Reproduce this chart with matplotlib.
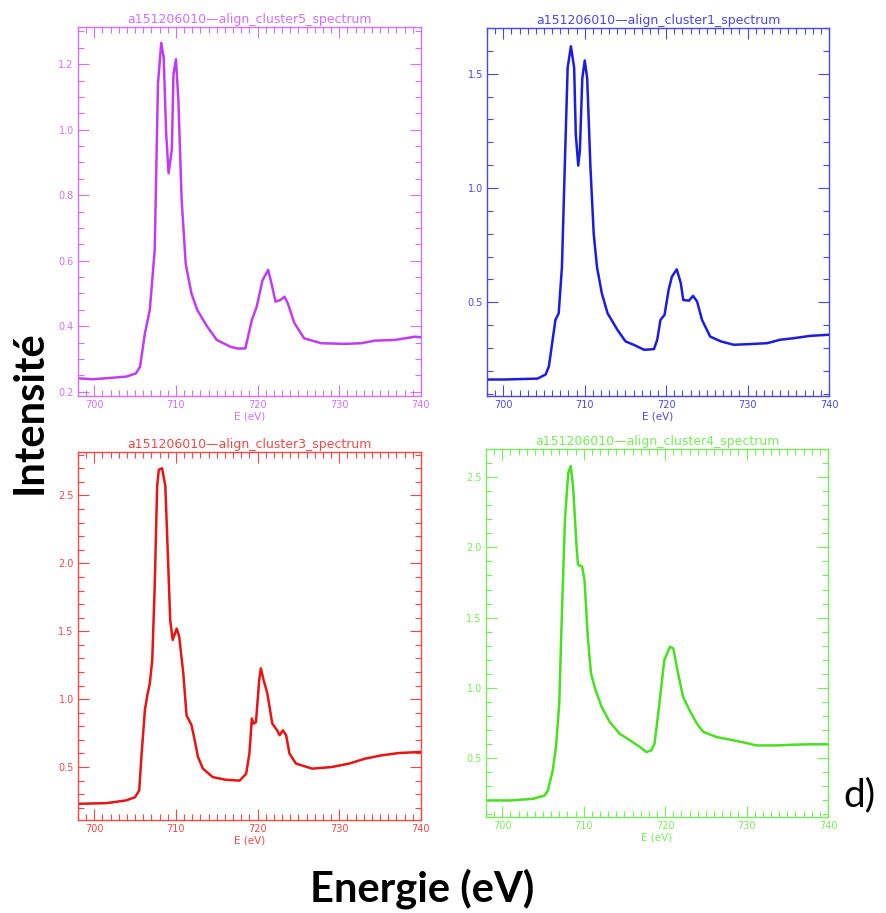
import numpy as np
import matplotlib
matplotlib.use("Agg")
import matplotlib.pyplot as plt
from matplotlib.ticker import MultipleLocator

# spectra (E in eV, intensity)
titles = ["a151206010\u2014align_cluster5_spectrum",
          "a151206010\u2014align_cluster1_spectrum",
          "a151206010\u2014align_cluster3_spectrum",
          "a151206010\u2014align_cluster4_spectrum"]

e5 = [698.0, 699.8, 701.9, 703.9, 705.1, 705.6, 706.2, 706.8, 707.4, 707.8, 708.2, 708.5,
      708.8, 709.1, 709.5, 709.7, 710.0, 710.3, 710.7, 711.2, 711.9, 712.6, 713.8, 715.0,
      716.7, 717.5, 718.5, 719.3, 719.9, 720.6, 721.3, 721.8, 722.2, 722.8, 723.3, 723.7,
      724.5, 725.7, 727.8, 730.7, 732.7, 734.4, 736.8, 739.3, 740.0]
i5 = [0.241, 0.238, 0.242, 0.246, 0.256, 0.276, 0.378, 0.45, 0.633, 1.14, 1.265, 1.22,
      0.99, 0.867, 0.94, 1.17, 1.215, 1.09, 0.785, 0.59, 0.5, 0.45, 0.4, 0.358,
      0.337, 0.332, 0.332, 0.419, 0.46, 0.54, 0.572, 0.52, 0.475, 0.48, 0.49, 0.47,
      0.41, 0.363, 0.348, 0.346, 0.348, 0.356, 0.358, 0.368, 0.366]

e1 = [698.0, 700.1, 704.2, 705.2, 705.6, 706.4, 706.8, 707.2, 707.6, 707.9, 708.3, 708.7,
      708.9, 709.2, 709.4, 709.7, 710.0, 710.3, 710.7, 711.1, 711.5, 712.1, 712.8, 714.0,
      715.0, 716.0, 717.3, 718.5, 718.9, 719.3, 719.8, 720.3, 720.7, 721.3, 721.8, 722.1,
      722.8, 723.3, 723.8, 724.4, 725.4, 726.7, 728.3, 730.3, 732.4, 734.0, 735.7, 737.7,
      740.0]
i1 = [0.162, 0.162, 0.166, 0.184, 0.22, 0.423, 0.452, 0.655, 1.16, 1.526, 1.62, 1.526,
      1.236, 1.098, 1.163, 1.48, 1.558, 1.48, 1.09, 0.80, 0.655, 0.539, 0.452, 0.38,
      0.329, 0.314, 0.292, 0.295, 0.336, 0.423, 0.445, 0.554, 0.612, 0.644, 0.583, 0.51,
      0.507, 0.528, 0.503, 0.423, 0.35, 0.329, 0.314, 0.317, 0.321, 0.336, 0.343, 0.353,
      0.358]

e3 = [698.0, 701.5, 703.9, 705.0, 705.5, 705.8, 706.2, 706.5, 706.8, 707.1, 707.4, 707.7,
      707.9, 708.3, 708.7, 709.0, 709.3, 709.6, 710.1, 710.4, 710.9, 711.3, 711.9, 712.3,
      712.7, 713.3, 714.5, 716.1, 717.8, 718.6, 719.0, 719.3, 719.5, 719.8, 720.2, 720.4,
      720.7, 721.2, 721.8, 722.4, 722.7, 723.1, 723.5, 723.9, 724.7, 726.7, 729.1, 731.2,
      733.2, 735.2, 737.3, 740.0]
i3 = [0.229, 0.234, 0.254, 0.278, 0.328, 0.6, 0.92, 1.03, 1.116, 1.29, 1.83, 2.57,
      2.69, 2.70, 2.57, 2.08, 1.58, 1.436, 1.52, 1.46, 1.19, 0.88, 0.81, 0.697,
      0.574, 0.488, 0.426, 0.406, 0.40, 0.45, 0.6, 0.857, 0.82, 0.83, 1.14, 1.227,
      1.15, 1.04, 0.82, 0.77, 0.734, 0.77, 0.734, 0.6, 0.525, 0.488, 0.5, 0.525,
      0.562, 0.586, 0.603, 0.611]

e4 = [698.0, 700.9, 703.8, 705.2, 705.6, 706.2, 706.6, 707.0, 707.3, 707.7, 708.1, 708.4,
      708.7, 709.1, 709.3, 709.8, 710.1, 710.5, 710.9, 711.4, 712.2, 713.2, 714.4, 715.7,
      716.9, 717.7, 718.3, 718.7, 719.3, 719.9, 720.6, 721.0, 721.6, 722.2, 723.0, 723.9,
      724.7, 726.3, 728.4, 730.0, 731.2, 733.7, 735.7, 737.8, 740.0]
i4 = [0.198, 0.198, 0.21, 0.233, 0.269, 0.412, 0.579, 0.888, 1.483, 2.198, 2.531, 2.579,
      2.436, 2.03, 1.876, 1.864, 1.769, 1.364, 1.102, 0.995, 0.864, 0.757, 0.674, 0.626,
      0.579, 0.543, 0.555, 0.602, 0.888, 1.198, 1.293, 1.281, 1.102, 0.936, 0.84, 0.745,
      0.686, 0.65, 0.626, 0.607, 0.59, 0.59, 0.595, 0.598, 0.598]

energies = [e5, e1, e3, e4]
intens = [i5, i1, i3, i4]

line_cols = ["#c03cf4", "#1c1ce0", "#e81414", "#48e020"]
frame_cols = ["#d070ff", "#4848e4", "#f04848", "#78ec5c"]
ylims = [(0.187, 1.313), (0.09, 1.70), (0.11, 2.82), (0.08, 2.70)]
ymaj = [0.2, 0.5, 0.5, 0.5]
ymin_step = [0.05, 0.1, 0.1, 0.1]

# axes boxes in figure fraction [left, bottom, width, height]
boxes = [[0.088, 0.5663, 0.387, 0.404],
         [0.5497, 0.5663, 0.386, 0.403],
         [0.088, 0.1019, 0.387, 0.403],
         [0.5485, 0.1051, 0.386, 0.403]]

fig = plt.figure(figsize=(8.86, 9.13), dpi=100)

for k in range(4):
    ax = fig.add_axes(boxes[k])
    ax.plot(energies[k], intens[k], color=line_cols[k], lw=1.8)
    ax.set_xlim(698, 740)
    ax.set_ylim(*ylims[k])
    fc = frame_cols[k]
    for sp in ax.spines.values():
        sp.set_color(fc)
        sp.set_linewidth(1.0)
    ax.xaxis.set_major_locator(MultipleLocator(10))
    ax.xaxis.set_minor_locator(MultipleLocator(1))
    ax.yaxis.set_major_locator(MultipleLocator(ymaj[k]))
    ax.yaxis.set_minor_locator(MultipleLocator(ymin_step[k]))
    ax.yaxis.set_major_formatter(matplotlib.ticker.FormatStrFormatter("%.1f"))
    ax.tick_params(which="both", direction="in", top=True, right=True,
                   colors=fc, labelcolor=fc, labelsize=7, width=0.8, pad=3)
    ax.tick_params(which="major", length=8)
    ax.tick_params(which="minor", length=4)
    ax.set_xlabel("E (eV)", color=fc, fontsize=7.5, labelpad=1)
    ax.set_title(titles[k], color=fc, fontsize=9, pad=3)

fig.text(0.034, 0.549, "Intensit\u00e9", rotation=90, ha="center", va="center",
         fontsize=30, fontweight="bold", family=["Lato", "DejaVu Sans"])
fig.text(0.476, 0.027, "Energie (eV)", ha="center", va="center",
         fontsize=30, fontweight="bold", family=["Lato", "DejaVu Sans"])
fig.text(0.970, 0.129, "d)", ha="center", va="center",
         fontsize=28, family=["Lato", "DejaVu Sans"])

fig.savefig("out.png", dpi=100)
